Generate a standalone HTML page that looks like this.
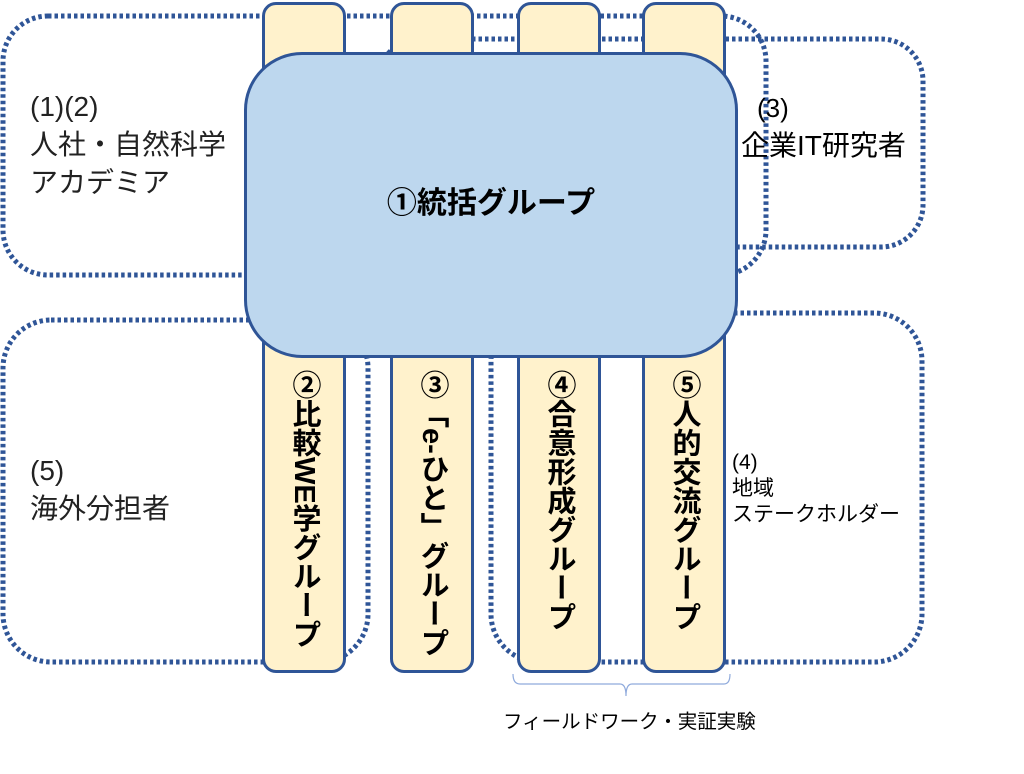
<!DOCTYPE html>
<html><head><meta charset="utf-8"><style>
body{margin:0;width:1024px;height:774px;background:#fff;position:relative;overflow:hidden;font-family:"Liberation Sans","Noto Sans CJK JP",sans-serif}
.col{position:absolute;top:2px;width:84px;height:671px;background:#fff2cc;border:3px solid #2f5597;border-radius:14px;box-sizing:border-box}
.vt{position:absolute;top:370px;width:84px;writing-mode:vertical-rl;font-weight:bold;font-size:29px;line-height:84px;color:#000;text-align:start}
.big{position:absolute;left:244px;top:52px;width:494px;height:306px;background:#bdd7ee;border:3px solid #2f5597;border-radius:58px;box-sizing:border-box;display:flex;align-items:center;justify-content:center;font-weight:bold;font-size:30px;padding-bottom:10px}
.t{position:absolute;color:#222}
</style></head><body>
<svg width="1024" height="774" style="position:absolute;left:0;top:0">
<g fill="none" stroke="#2f5597" stroke-width="5" stroke-dasharray="3.5 3">
<rect x="3" y="16" width="763" height="259" rx="45"/>
<rect x="378" y="39" width="545" height="208" rx="42"/>
<rect x="3" y="320" width="365" height="342" rx="48"/>
<rect x="491" y="313" width="431" height="349" rx="48"/>
</g>
<path d="M513 674 Q513 684 520 684 L620 684 Q626 684 626 696 Q626 684 632 684 L724 684 Q730 684 730 674" fill="none" stroke="#8faadc" stroke-width="1.2"/>
</svg>
<div class="col" style="left:262px"></div>
<div class="col" style="left:390px"></div>
<div class="col" style="left:517px"></div>
<div class="col" style="left:642px"></div>
<div class="vt" style="left:262px">②比較WE学グループ</div>
<div class="vt" style="left:390px">③「e-ひと」グループ</div>
<div class="vt" style="left:517px">④合意形成グループ</div>
<div class="vt" style="left:642px">⑤人的交流グループ</div>
<div class="big">①統括グループ</div>
<div class="t" style="left:30px;top:88px;font-size:28px;line-height:38px">(1)(2)<br>人社・自然科学<br>アカデミア</div>
<div class="t" style="left:757px;top:90px;font-size:26px;line-height:36px;color:#000">(3)</div>
<div class="t" style="left:741px;top:128px;font-size:28px;line-height:36px;color:#000">企業IT研究者</div>
<div class="t" style="left:30px;top:452px;font-size:28px;line-height:38px">(5)<br>海外分担者</div>
<div class="t" style="left:732px;top:450px;font-size:21px;line-height:26px;color:#000">(4)<br>地域<br>ステークホルダー</div>
<div class="t" style="left:503px;top:709px;font-size:19.5px;line-height:26px;color:#000">フィールドワーク・実証実験</div>
</body></html>
